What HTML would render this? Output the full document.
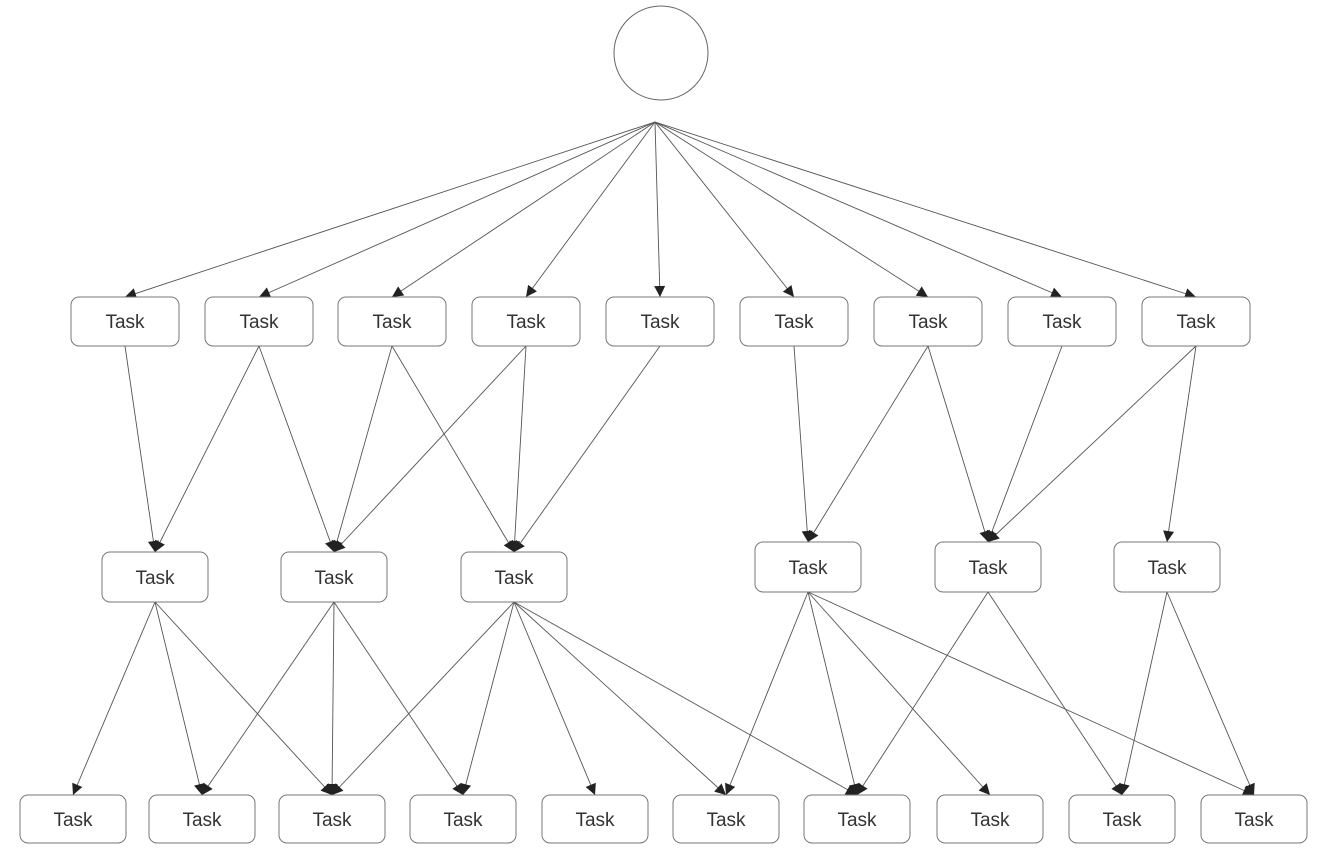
<!DOCTYPE html>
<html><head><meta charset="utf-8"><style>
html,body{margin:0;padding:0;background:#fff;}
svg{display:block;}
text{font-family:"Liberation Sans",sans-serif;font-size:19px;fill:#333;}
</style></head><body>
<svg width="1332" height="868" viewBox="0 0 1332 868" xmlns="http://www.w3.org/2000/svg">
<defs>
<marker id="a" viewBox="0 0 10 10" refX="10" refY="5" markerWidth="12" markerHeight="11" orient="auto" markerUnits="userSpaceOnUse">
<path d="M0,0 L10,5 L0,10 z" fill="#222"/></marker>
</defs>
<g stroke="#555" stroke-width="0.9" fill="none" marker-end="url(#a)">
<line x1="655" y1="122" x2="125" y2="297"/>
<line x1="655" y1="122" x2="259" y2="297"/>
<line x1="655" y1="122" x2="392" y2="297"/>
<line x1="655" y1="122" x2="526" y2="297"/>
<line x1="655" y1="122" x2="660" y2="297"/>
<line x1="655" y1="122" x2="794" y2="297"/>
<line x1="655" y1="122" x2="928" y2="297"/>
<line x1="655" y1="122" x2="1062" y2="297"/>
<line x1="655" y1="122" x2="1196" y2="297"/>
<line x1="125" y1="346" x2="155" y2="552"/>
<line x1="259" y1="346" x2="155" y2="552"/>
<line x1="259" y1="346" x2="334" y2="552"/>
<line x1="392" y1="346" x2="334" y2="552"/>
<line x1="392" y1="346" x2="514" y2="552"/>
<line x1="526" y1="346" x2="334" y2="552"/>
<line x1="526" y1="346" x2="514" y2="552"/>
<line x1="660" y1="346" x2="514" y2="552"/>
<line x1="794" y1="346" x2="808" y2="542"/>
<line x1="928" y1="346" x2="808" y2="542"/>
<line x1="928" y1="346" x2="988" y2="542"/>
<line x1="1062" y1="346" x2="988" y2="542"/>
<line x1="1196" y1="346" x2="988" y2="542"/>
<line x1="1196" y1="346" x2="1167" y2="542"/>
<line x1="155" y1="602" x2="73" y2="795"/>
<line x1="155" y1="602" x2="202" y2="795"/>
<line x1="155" y1="602" x2="332" y2="795"/>
<line x1="334" y1="602" x2="202" y2="795"/>
<line x1="334" y1="602" x2="332" y2="795"/>
<line x1="334" y1="602" x2="463" y2="795"/>
<line x1="514" y1="602" x2="332" y2="795"/>
<line x1="514" y1="602" x2="463" y2="795"/>
<line x1="514" y1="602" x2="595" y2="795"/>
<line x1="514" y1="602" x2="726" y2="795"/>
<line x1="514" y1="602" x2="857" y2="795"/>
<line x1="808" y1="592" x2="726" y2="795"/>
<line x1="808" y1="592" x2="857" y2="795"/>
<line x1="808" y1="592" x2="990" y2="795"/>
<line x1="808" y1="592" x2="1254" y2="795"/>
<line x1="988" y1="592" x2="857" y2="795"/>
<line x1="988" y1="592" x2="1122" y2="795"/>
<line x1="1167" y1="592" x2="1122" y2="795"/>
<line x1="1167" y1="592" x2="1254" y2="795"/>
</g>
<circle cx="661" cy="53" r="47" fill="#fff" stroke="#666" stroke-width="1"/>
<g fill="#fff" stroke="#777" stroke-width="1">
<rect x="71" y="297" width="108" height="49" rx="8"/>
<rect x="205" y="297" width="108" height="49" rx="8"/>
<rect x="338" y="297" width="108" height="49" rx="8"/>
<rect x="472" y="297" width="108" height="49" rx="8"/>
<rect x="606" y="297" width="108" height="49" rx="8"/>
<rect x="740" y="297" width="108" height="49" rx="8"/>
<rect x="874" y="297" width="108" height="49" rx="8"/>
<rect x="1008" y="297" width="108" height="49" rx="8"/>
<rect x="1142" y="297" width="108" height="49" rx="8"/>
<rect x="102" y="552" width="106" height="50" rx="8"/>
<rect x="281" y="552" width="106" height="50" rx="8"/>
<rect x="461" y="552" width="106" height="50" rx="8"/>
<rect x="755" y="542" width="106" height="50" rx="8"/>
<rect x="935" y="542" width="106" height="50" rx="8"/>
<rect x="1114" y="542" width="106" height="50" rx="8"/>
<rect x="20" y="795" width="106" height="48" rx="8"/>
<rect x="149" y="795" width="106" height="48" rx="8"/>
<rect x="279" y="795" width="106" height="48" rx="8"/>
<rect x="410" y="795" width="106" height="48" rx="8"/>
<rect x="542" y="795" width="106" height="48" rx="8"/>
<rect x="673" y="795" width="106" height="48" rx="8"/>
<rect x="804" y="795" width="106" height="48" rx="8"/>
<rect x="937" y="795" width="106" height="48" rx="8"/>
<rect x="1069" y="795" width="106" height="48" rx="8"/>
<rect x="1201" y="795" width="106" height="48" rx="8"/>
</g>
<g text-anchor="middle">
<text x="125" y="328">Task</text><text x="259" y="328">Task</text><text x="392" y="328">Task</text>
<text x="526" y="328">Task</text><text x="660" y="328">Task</text><text x="794" y="328">Task</text>
<text x="928" y="328">Task</text><text x="1062" y="328">Task</text><text x="1196" y="328">Task</text>
<text x="155" y="584">Task</text><text x="334" y="584">Task</text><text x="514" y="584">Task</text>
<text x="808" y="574">Task</text><text x="988" y="574">Task</text><text x="1167" y="574">Task</text>
<text x="73" y="826">Task</text><text x="202" y="826">Task</text><text x="332" y="826">Task</text>
<text x="463" y="826">Task</text><text x="595" y="826">Task</text><text x="726" y="826">Task</text>
<text x="857" y="826">Task</text><text x="990" y="826">Task</text><text x="1122" y="826">Task</text>
<text x="1254" y="826">Task</text>
</g>
</svg>
</body></html>
